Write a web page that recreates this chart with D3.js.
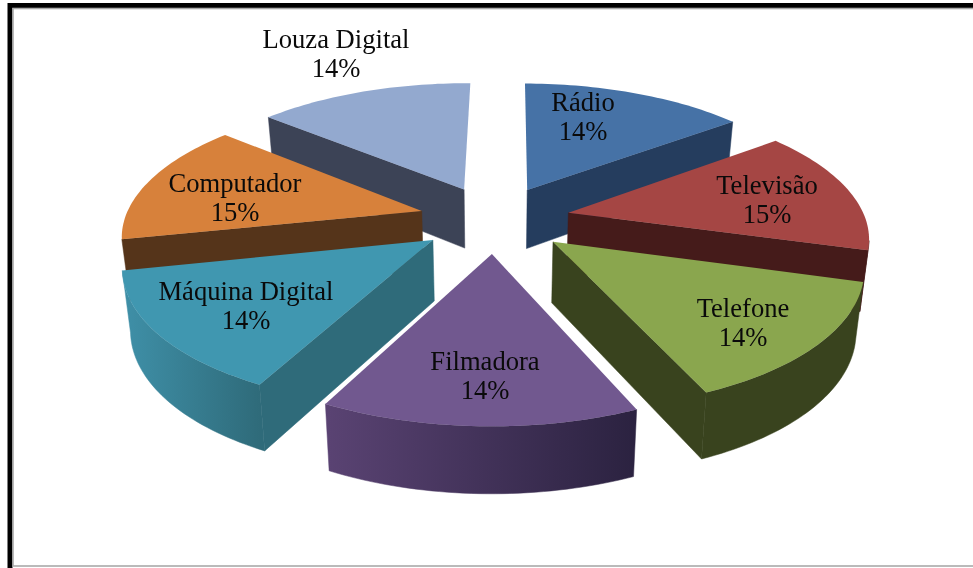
<!DOCTYPE html>
<html><head><meta charset="utf-8">
<script src="https://cdn.jsdelivr.net/npm/d3@7"></script>
<style>html,body{margin:0;padding:0;background:#fff;overflow:hidden}svg{display:block;filter:blur(0.4px)}
text{font-family:"Liberation Serif",serif;font-size:26.6px;fill:#0a0a0a;text-anchor:middle}</style>
</head><body><svg id="c" width="973" height="568"></svg>
<script>
const categories=["Rádio","Televisão","Telefone","Filmadora","Máquina Digital","Computador","Louza Digital"];
const values=[14.49,14.8,14.07,14.05,14.05,14.6,13.94];
const percentLabels=["14%","15%","14%","14%","14%","15%","14%"];
const topColors=["#4672A6","#A54644","#8AA64E","#71588F","#4097B0","#D7813B","#93A9CF"];
const radialColors=["#253D5E","#451B1A","#39431E","#2C2340","#2F6B7A","#55341A","#3C4356"];
const outerLeft=["#253D5E","#451B1A","#39431E","#5A4373","#3F90A8","#55341A","#3C4356"];
const outerRight=["#253D5E","#451B1A","#39431E","#2B2240","#2F6B7A","#55341A","#3C4356"];
const drawOrder=[6,0,5,1,4,2,3];
const labelAt=[[583,111],[767,194],[743,317],[485,370],[246,300],[235,192],[336,48]];
const lineGap=29;

const cx=494.5,cy=219,A=297,B=132,K=0.16,EXPLODE=0.255,ROT=0.5*Math.PI/180,BX=0.978;
const svg=d3.select("#c");
const defs=svg.append("defs");
const pie=d3.pie().sort(null).startAngle(ROT).endAngle(ROT+2*Math.PI);
const arcs=pie(values);
const N=40;

function proj(u,v,bottom){
  const w=1/(1-K*v);
  const sx=bottom?BX:1;
  return [cx+A*u*w*sx, cy+B*v*w+(bottom?60+6*v:0)];
}
const line=d3.line();
function offset(a){
  const mid=(a.startAngle+a.endAngle)/2;
  return [EXPLODE*Math.sin(mid),-EXPLODE*Math.cos(mid)];
}
function angles(a){
  return d3.range(N+1).map(i=>a.startAngle+(a.endAngle-a.startAngle)*i/N);
}
// radial wall faces the viewer? (plane coordinates; camera at v=1/K)
function radialFaces(a,t,sign){
  const [ex,ey]=offset(a);
  return sign*Math.cos(t)*(0-ex)+sign*Math.sin(t)*(1/K-ey)>0.2;
}
// rim point faces the viewer?
function rimFaces(a,t){
  const [ex,ey]=offset(a);
  const pu=ex+Math.sin(t),pv=ey-Math.cos(t);
  return Math.sin(t)*(0-pu)+(-Math.cos(t))*(1/K-pv)>0;
}
function rimPoint(a,t,bottom){
  const [ex,ey]=offset(a);
  return proj(ex+Math.sin(t),ey-Math.cos(t),bottom);
}
function apex(a,bottom){
  const [ex,ey]=offset(a);
  return proj(ex,ey,bottom);
}
// frame
svg.append("rect").attr("x",10).attr("y",5.5).attr("width",975).attr("height",570)
  .attr("fill","none").attr("stroke","#000").attr("stroke-width",5);
svg.append("rect").attr("x",13).attr("y",8.5).attr("width",975).attr("height",557.5)
  .attr("fill","none").attr("stroke","#a9a9a9").attr("stroke-width",1.6);

drawOrder.forEach(i=>{
  const a=arcs[i];
  const g=svg.append("g");
  const ts=angles(a);
  const wall=(t)=>g.append("path")
    .attr("d",line([apex(a,false),rimPoint(a,t,false),rimPoint(a,t,true),apex(a,true)])+"Z")
    .attr("fill",radialColors[i]).attr("stroke",radialColors[i]).attr("stroke-width",0.5);
  if(radialFaces(a,a.startAngle,-1)) wall(a.startAngle);
  if(radialFaces(a,a.endAngle,1)) wall(a.endAngle);
  const vis=ts.filter(t=>rimFaces(a,t));
  if(vis.length>1){
    const top=vis.map(t=>rimPoint(a,t,false)),bot=vis.map(t=>rimPoint(a,t,true));
    const xs=top.map(p=>p[0]);
    const id="o"+i;
    const gr=defs.append("linearGradient").attr("id",id).attr("gradientUnits","userSpaceOnUse")
      .attr("x1",d3.min(xs)).attr("x2",d3.max(xs)).attr("y1",0).attr("y2",0);
    gr.append("stop").attr("offset",0).attr("stop-color",outerLeft[i]);
    gr.append("stop").attr("offset",1).attr("stop-color",outerRight[i]);
    g.append("path").attr("d",line(top.concat(bot.reverse()))+"Z").attr("fill",`url(#${id})`)
      .attr("stroke",`url(#${id})`).attr("stroke-width",0.5);
  }
  g.append("path").attr("d",line([apex(a,false)].concat(ts.map(t=>rimPoint(a,t,false))))+"Z").attr("fill",topColors[i]);
});
categories.forEach((c,i)=>{
  svg.append("text").attr("x",labelAt[i][0]).attr("y",labelAt[i][1]).text(c);
  svg.append("text").attr("x",labelAt[i][0]).attr("y",labelAt[i][1]+lineGap).text(percentLabels[i]);
});
</script></body></html>
